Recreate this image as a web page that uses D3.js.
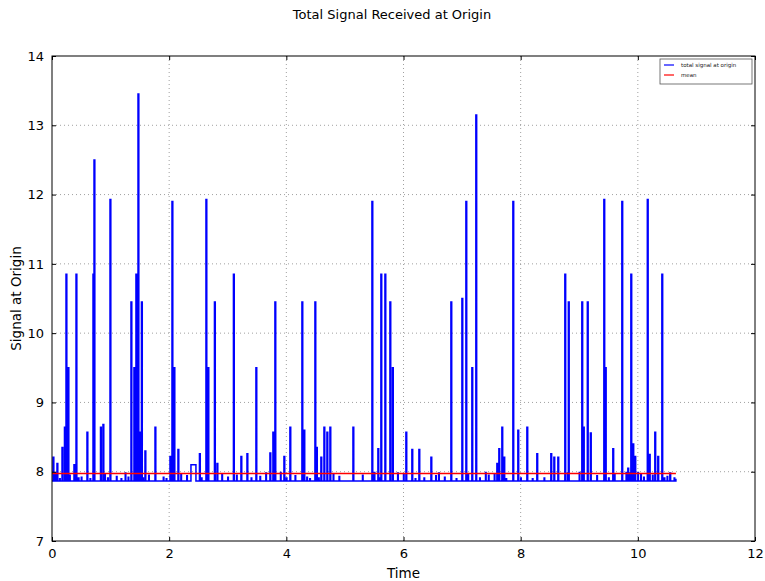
<!DOCTYPE html>
<html>
<head>
<meta charset="utf-8">
<script src="https://cdnjs.cloudflare.com/ajax/libs/d3/7.8.5/d3.min.js"></script>
<style>
  body { margin: 0; background: #fff; }
  svg { font-family: "DejaVu Sans", sans-serif; }
</style>
</head>
<body>
<div id="chart"></div>
<script>
// baseline level of the signal and its mean
var baseLevel = 7.865;
var meanLevel = 7.975;
var endTime = 10.65;

// spikes: start time and peak value
var spikeTimes = [0.017, 0.085, 0.171, 0.213, 0.239, 0.273, 0.375, 0.41, 0.597, 0.70, 0.717, 0.828, 0.870, 0.990,
  1.348, 1.399, 1.433, 1.468, 1.493, 1.527, 1.587, 1.758, 2.014, 2.048, 2.082, 2.150, 2.372, 2.517, 2.628, 2.662,
  2.773, 2.816, 3.097, 3.225, 3.328, 3.481, 3.720, 3.771, 3.805, 3.959, 4.061, 4.266, 4.300, 4.488, 4.514, 4.590,
  4.642, 4.693, 4.744, 5.137, 5.461, 5.563, 5.614, 5.683, 5.768, 5.811, 6.041, 6.143, 6.263, 6.468, 6.809, 6.997,
  7.065, 7.167, 7.235, 7.594, 7.628, 7.679, 7.713, 7.867, 7.952, 8.106, 8.276, 8.515, 8.567, 8.635, 8.754, 8.814,
  9.044, 9.07, 9.138, 9.19, 9.42, 9.445, 9.573, 9.727, 9.829, 9.881, 9.915, 9.949, 10.162, 10.196, 10.29, 10.341,
  10.41, 10.546];
var spikeValues = [8.21, 8.12, 8.35, 8.64, 10.85, 9.5, 8.1, 10.85, 8.57, 10.85, 12.5, 8.64, 8.68, 11.93,
  10.45, 9.5, 10.85, 13.45, 8.57, 10.45, 8.3, 8.64, 8.22, 11.9, 9.5, 8.32, 8.1, 8.26, 11.93, 9.5,
  10.45, 8.12, 10.85, 8.22, 8.26, 9.5, 8.27, 8.57, 10.45, 8.22, 8.64, 10.45, 8.6, 10.45, 8.35, 8.21,
  8.64, 8.57, 8.64, 8.64, 11.9, 8.33, 10.85, 10.85, 10.45, 9.5, 8.57, 8.32, 8.32, 8.21, 10.45, 10.5,
  11.9, 9.5, 13.15, 8.12, 8.33, 8.64, 8.21, 11.9, 8.6, 8.64, 8.26, 8.26, 8.21, 8.21, 10.85, 10.45,
  10.45, 8.64, 10.45, 8.56, 11.93, 9.5, 8.33, 11.9, 8.05, 10.85, 8.4, 8.22, 11.93, 8.25, 8.57, 8.22,
  10.85, 7.98];
// spike durations (most are very short, the plateau near t=2.4 is longer)
var spikeDurations = spikeTimes.map(function(t, i) { return i === 26 ? 0.085 : 0.014; });

// small fluctuations around the baseline
var bumpTimes = [0.05, 0.13, 0.3, 0.45, 0.5, 0.65, 0.9, 0.95, 1.1, 1.18, 1.25, 1.3, 1.55, 1.65, 1.9, 1.95, 2.2,
  2.3, 2.55, 2.9, 3.0, 3.15, 3.4, 3.55, 3.65, 3.9, 4.0, 4.15, 4.35, 4.4, 4.55, 4.8, 4.9, 5.3, 5.5, 5.58, 5.9,
  6.0, 6.2, 6.35, 6.55, 6.6, 6.7, 6.9, 7.1, 7.3, 7.4, 7.45, 7.55, 7.75, 8.0, 8.2, 8.4, 8.8, 9.0, 9.3, 9.5,
  9.6, 9.8, 9.85, 9.95, 10.0, 10.05, 10.1, 10.25, 10.45, 10.5, 10.62];
var bumpValues = [7.98, 7.9, 7.95, 7.91, 7.92, 7.9, 7.97, 7.91, 7.93, 7.9, 7.98, 7.92, 7.91, 7.95, 7.92, 7.9,
  7.96, 7.94, 7.91, 7.97, 7.92, 7.95, 7.91, 7.93, 7.98, 7.99, 7.91, 7.94, 7.92, 7.9, 7.91, 7.97, 7.93, 7.95,
  7.99, 7.91, 7.98, 7.96, 7.9, 7.91, 7.94, 7.98, 7.92, 7.9, 7.97, 7.91, 7.99, 7.95, 7.96, 7.9, 7.91, 7.9,
  7.91, 7.98, 7.99, 7.94, 7.91, 7.97, 7.99, 7.98, 7.96, 7.99, 7.97, 7.92, 7.95, 7.91, 7.93, 7.91];

var xTicks = [0, 2, 4, 6, 8, 10, 12];
var yTicks = [7, 8, 9, 10, 11, 12, 13, 14];

var width = 765, height = 581;
var margin = { left: 52, right: 10, top: 56, bottom: 40 };

var x = d3.scaleLinear().domain([0, 12]).range([margin.left, width - margin.right]);
var y = d3.scaleLinear().domain([7, 14]).range([height - margin.bottom, margin.top]);

// build step series from events
var events = spikeTimes.map(function(t, i) { return { t: t, v: spikeValues[i], d: spikeDurations[i] }; })
  .concat(bumpTimes.map(function(t, i) { return { t: t, v: bumpValues[i], d: 0.01 }; }))
  .sort(function(a, b) { return a.t - b.t; });

var series = [[0, baseLevel]];
events.forEach(function(e) {
  series.push([e.t, e.v]);
  series.push([e.t + e.d, baseLevel]);
});
series.push([endTime, 7.9]);

var svg = d3.select("#chart").append("svg")
  .attr("width", width)
  .attr("height", height);

// grid
svg.append("g").selectAll("line").data(xTicks.slice(1, -1)).enter().append("line")
  .attr("x1", d => x(d)).attr("x2", d => x(d))
  .attr("y1", margin.top).attr("y2", height - margin.bottom)
  .attr("stroke", "#777").attr("stroke-width", 0.7).attr("stroke-dasharray", "1,3");
svg.append("g").selectAll("line").data(yTicks.slice(1, -1)).enter().append("line")
  .attr("x1", margin.left).attr("x2", width - margin.right)
  .attr("y1", d => y(d)).attr("y2", d => y(d))
  .attr("stroke", "#777").attr("stroke-width", 0.7).attr("stroke-dasharray", "1,3");

// data line
var line = d3.line()
  .x(d => x(d[0]))
  .y(d => y(d[1]))
  .curve(d3.curveStepAfter);

svg.append("path")
  .datum(series)
  .attr("fill", "none")
  .attr("stroke", "#0000ff")
  .attr("stroke-width", 1.5)
  .attr("d", line);

// mean
svg.append("line")
  .attr("x1", x(0)).attr("x2", x(endTime))
  .attr("y1", y(meanLevel)).attr("y2", y(meanLevel))
  .attr("stroke", "#ff0000").attr("stroke-width", 1.6);

// axes with inward ticks
var fmt = d3.format("d");
var axBottom = svg.append("g").attr("transform", "translate(0," + (height - margin.bottom) + ")")
  .call(d3.axisBottom(x).tickValues(xTicks).tickFormat(fmt).tickSizeInner(-4).tickSizeOuter(0).tickPadding(8));
var axTop = svg.append("g").attr("transform", "translate(0," + margin.top + ")")
  .call(d3.axisTop(x).tickValues(xTicks).tickSizeInner(-4).tickSizeOuter(0).tickFormat(""));
var axLeft = svg.append("g").attr("transform", "translate(" + margin.left + ",0)")
  .call(d3.axisLeft(y).tickValues(yTicks).tickFormat(fmt).tickSizeInner(-4).tickSizeOuter(0).tickPadding(8));
var axRight = svg.append("g").attr("transform", "translate(" + (width - margin.right) + ",0)")
  .call(d3.axisRight(y).tickValues(yTicks).tickSizeInner(-4).tickSizeOuter(0).tickFormat(""));

[axBottom, axTop, axLeft, axRight].forEach(function(g) {
  g.select(".domain").remove();
  g.selectAll("line").attr("stroke", "#000");
  g.selectAll("text").attr("font-family", "DejaVu Sans, sans-serif").attr("font-size", 13).attr("fill", "#000");
});

svg.append("rect")
  .attr("x", margin.left).attr("y", margin.top)
  .attr("width", width - margin.left - margin.right)
  .attr("height", height - margin.top - margin.bottom)
  .attr("fill", "none").attr("stroke", "#000").attr("stroke-width", 1);

// titles
svg.append("text")
  .attr("x", 392).attr("y", 19)
  .attr("text-anchor", "middle").attr("font-size", 13)
  .text("Total Signal Received at Origin");

svg.append("text")
  .attr("x", (margin.left + width - margin.right) / 2).attr("y", 578)
  .attr("text-anchor", "middle").attr("font-size", 13.5)
  .text("Time");

svg.append("text")
  .attr("transform", "translate(21," + ((margin.top + height - margin.bottom) / 2) + ") rotate(-90)")
  .attr("text-anchor", "middle").attr("font-size", 13.5)
  .text("Signal at Origin");

// legend
var legend = svg.append("g").attr("transform", "translate(660,59)");
legend.append("rect")
  .attr("width", 92).attr("height", 25)
  .attr("fill", "#fff").attr("stroke", "#555").attr("stroke-width", 0.8);
var legendItems = [["total signal at origin", "#0000ff"], ["mean", "#ff0000"]];
legendItems.forEach(function(item, i) {
  legend.append("line")
    .attr("x1", 4).attr("x2", 14)
    .attr("y1", 6 + i * 10).attr("y2", 6 + i * 10)
    .attr("stroke", item[1]).attr("stroke-width", 1.2);
  legend.append("text")
    .attr("x", 21).attr("y", 8 + i * 10)
    .attr("font-size", 5.5).attr("fill", "#222")
    .text(item[0]);
});
</script>
</body>
</html>
